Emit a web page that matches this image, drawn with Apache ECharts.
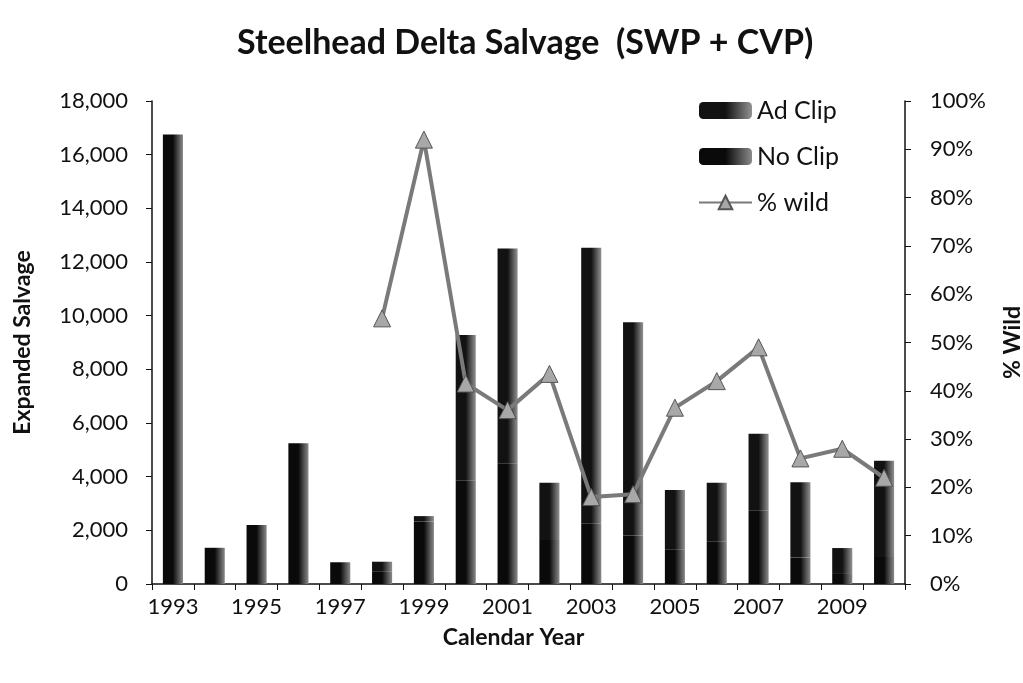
<!DOCTYPE html>
<html>
<head>
<meta charset="utf-8">
<script src="https://cdn.jsdelivr.net/npm/echarts@6/dist/echarts.min.js"></script>
<style>
  html, body { margin: 0; padding: 0; background: #fff; }
  #chart { width: 1023px; height: 683px; }
</style>
</head>
<body>
<div id="chart"></div>
<script>
// years on the x axis
var years = ["1993", "1994", "1995", "1996", "1997", "1998", "1999", "2000", "2001",
             "2002", "2003", "2004", "2005", "2006", "2007", "2008", "2009", "2010"];
// expanded salvage, split into the two stacked parts
var noClip = [16750, 1350, 2200, 5250, 810, 455, 2330, 3850, 4500,
              1640, 2250, 1810, 1280, 1590, 2750, 985, 375, 1010];
var adClip = [0, 0, 0, 0, 0, 375, 200, 5430, 8000,
              2135, 10280, 7940, 2220, 2185, 2850, 2805, 965, 3580];
// % wild (null before 1998)
var pctWild = [null, null, null, null, null, 55, 92, 41.5, 36,
               43.5, 18, 18.6, 36.5, 42, 49, 26, 28, 22];

var font = "Lato, 'Open Sans', sans-serif";

function barFill(dark, light) {
    return new echarts.graphic.LinearGradient(0, 0, 1, 0, [
        { offset: 0, color: dark },
        { offset: 0.5, color: dark },
        { offset: 1, color: light }
    ]);
}

var chart = echarts.init(document.getElementById("chart"));
var option = {
    animation: false,
    backgroundColor: "#fff",
    textStyle: { fontFamily: font, color: "#111" },
    title: {
        text: "Steelhead Delta Salvage  (SWP + CVP)",
        left: 232,
        top: 21,
        textStyle: { fontFamily: font, fontSize: 34, fontWeight: "bold", color: "#111" }
    },
    legend: {
        orient: "vertical",
        left: 693,
        top: 93,
        itemGap: 21,
        itemWidth: 53,
        itemHeight: 17,
        textStyle: { fontFamily: font, fontSize: 25, color: "#111" },
        data: ["Ad Clip", "No Clip", "% wild"]
    },
    grid: { left: 152, right: 118, top: 101, bottom: 99, outerBoundsMode: "none", containLabel: false },
    xAxis: {
        type: "category",
        data: years,
        name: "Calendar Year",
        nameLocation: "middle",
        nameGap: 42,
        nameTextStyle: { fontFamily: font, fontSize: 23, fontWeight: "bold", color: "#111", padding: [0, 30, 0, 0] },
        axisLine: { lineStyle: { color: "#111", width: 1.5 } },
        axisTick: { show: true, interval: 0, length: 6, lineStyle: { color: "#111" } },
        axisLabel: { interval: 1, fontSize: 22, color: "#111", margin: 12 }
    },
    yAxis: [
        {
            type: "value",
            min: 0,
            max: 18000,
            interval: 2000,
            name: "Expanded Salvage",
            nameLocation: "middle",
            nameGap: 118,
            nameTextStyle: { fontFamily: font, fontSize: 23, fontWeight: "bold", color: "#111" },
            axisLine: { show: true, lineStyle: { color: "#111", width: 1.5 } },
            axisTick: { show: true, length: 6, lineStyle: { color: "#111" } },
            splitLine: { show: false },
            axisLabel: {
                fontSize: 22, color: "#111", margin: 24,
                formatter: function (v) { return v.toLocaleString("en-US"); }
            }
        },
        {
            type: "value",
            min: 0,
            max: 100,
            interval: 10,
            name: "% Wild",
            nameLocation: "middle",
            nameGap: 96,
            nameRotate: 90,
            nameTextStyle: { fontFamily: font, fontSize: 23, fontWeight: "bold", color: "#111" },
            axisLine: { show: true, lineStyle: { color: "#111", width: 1.5 } },
            axisTick: { show: true, length: 6, lineStyle: { color: "#111" } },
            splitLine: { show: false },
            axisLabel: { fontSize: 22, color: "#111", margin: 25, formatter: "{value}%" }
        }
    ],
    series: [
        {
            name: "No Clip",
            type: "bar",
            stack: "salvage",
            barWidth: "48%",
            data: noClip,
            itemStyle: { color: barFill("#0a0a0a", "#8a8a8a") }
        },
        {
            name: "Ad Clip",
            type: "bar",
            stack: "salvage",
            barWidth: "48%",
            data: adClip,
            itemStyle: { color: barFill("#121212", "#929292") }
        },
        {
            name: "% wild",
            type: "line",
            yAxisIndex: 1,
            data: pctWild,
            symbol: "triangle",
            symbolSize: 17,
            lineStyle: { color: "#7a7a7a", width: 4 },
            itemStyle: { color: "#a8a8a8", borderColor: "#555", borderWidth: 1 }
        }
    ]
};
chart.setOption(option);
</script>
</body>
</html>
